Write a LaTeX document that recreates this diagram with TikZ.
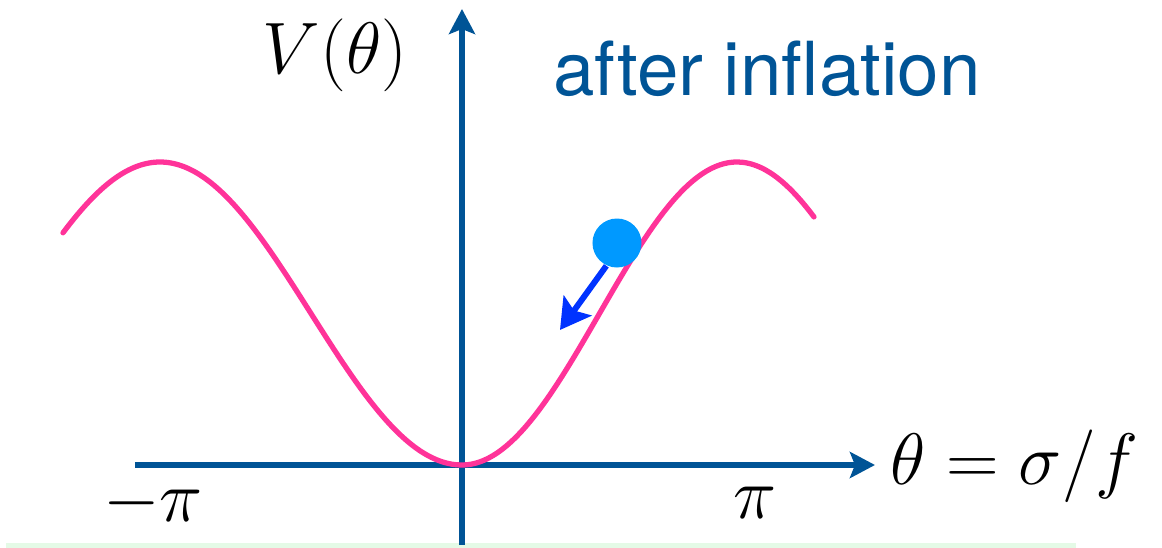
\documentclass[tikz,border=0pt]{standalone}
\usepackage{fontspec}
\newfontfamily\titlefont{TeX Gyre Heros}
\usetikzlibrary{arrows.meta}

\definecolor{axisblue}{RGB}{0,84,150}
\definecolor{curvepink}{RGB}{255,51,153}
\definecolor{ballblue}{RGB}{0,153,255}
\definecolor{kickblue}{RGB}{0,51,255}
\definecolor{stripgreen}{RGB}{228,250,230}

\begin{document}
\begin{tikzpicture}[
		axis/.style={draw=axisblue, line width=1.5pt, -{Stealth[length=0.25cm, width=0.26cm, inset=0.05cm]}},
		potential/.style={draw=curvepink, line width=1.5pt, line cap=round, smooth, samples=80},
		mathlabel/.style={font=\fontsize{22.8}{27}\selectfont, inner sep=0pt},
		ball/.style={circle, fill=ballblue, minimum size=0.49cm, inner sep=0pt},
		kick/.style={draw=kickblue, line width=1.7pt, -{Stealth[length=0.30cm, width=0.34cm, inset=0.06cm]}}]

	\useasboundingbox (-4.62,-0.83) rectangle (7.00,4.65);

	% ===== pasek u dołu =====
	\fill[stripgreen] (-4.56,-0.83) rectangle (6.14,-0.78);

	% ===== osie =====
	\coordinate (xstart) at (-3.27,0);
	\coordinate (xend) at (4.13,0);
	\coordinate (ystart) at (0,-0.80);
	\coordinate (yend) at (0,4.56);
	\draw[axis] (xstart) -- (xend);
	\draw[axis] (ystart) -- (yend);

	% ===== potencjał =====
	\draw[potential] plot[domain=-3.99:0] (\x, {1.515*(1-cos(\x*180/3.02))})
		-- plot[domain=0:3.52] (\x, {1.515*(1-cos(\x*180/2.75))});

	% ===== kulka =====
	\node[ball] (field) at (1.55,2.22) {};
	\coordinate (kicktip) at (0.98,1.35);
	\draw[kick] (field.245) -- (kicktip);

	% ===== opisy =====
	\node[mathlabel, anchor=base] (vlabel) at (-1.27,3.92) {$V(\theta)$};
	\node[mathlabel, anchor=base west] (xlabel) at (4.28,-0.19) {$\theta=\sigma/f$};
	\node[mathlabel, anchor=base] (mpi) at (-3.09,-0.56) {$-\pi$};
	\node[mathlabel, anchor=base] (ppi) at (2.93,-0.53) {$\pi$};
	\node[anchor=base, inner sep=0pt, text=axisblue, font=\titlefont\fontsize{21.2}{25}\selectfont] (title) at (3.05,3.70) {after inflation};
\end{tikzpicture}
\end{document}
